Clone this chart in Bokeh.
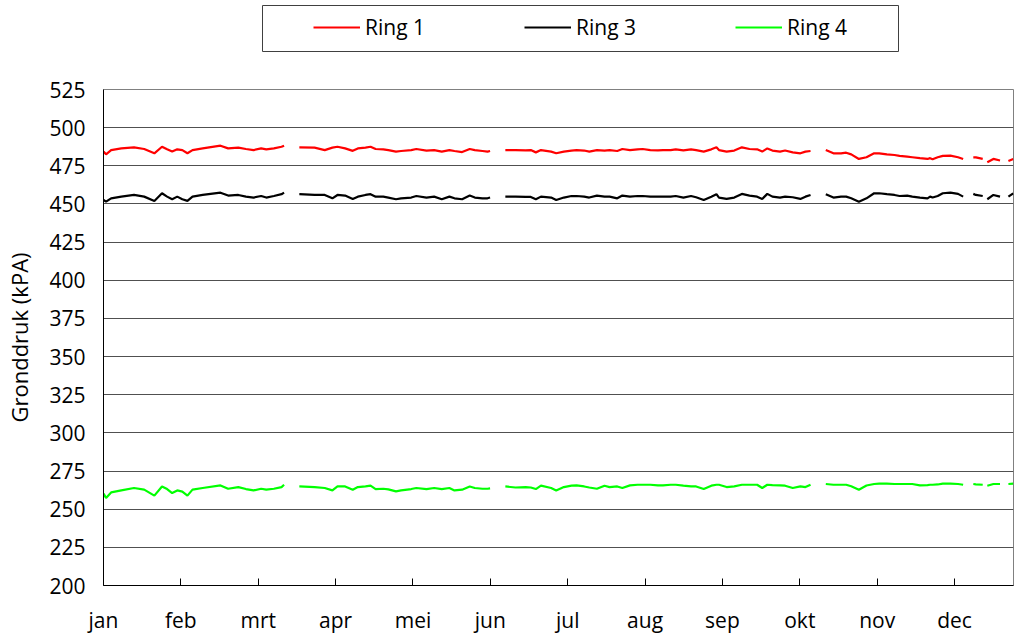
import numpy as np
from bokeh.plotting import figure
from bokeh.layouts import column
from bokeh.models import Range1d, FixedTicker, Legend, LegendItem, BoxAnnotation
from bokeh.embed import file_html
from bokeh.resources import INLINE

nan = float("nan")

months = ["jan", "feb", "mrt", "apr", "mei", "jun", "jul", "aug", "sep", "okt", "nov", "dec"]
month_len = 30.42
x_end = 357.8

days = [0, 1, 3, 7, 12, 16, 20, 23, 25, 27, 29, 31, 33, 35, 39, 46, 49, 53, 56, 59,
        62, 64, 67, 70, 71, 73, 77, 83, 87, 90, 92, 95, 98, 100, 103, 105, 107, 110, 112, 115,
        117, 121, 123, 127, 130, 133, 136, 138, 141, 144, 146, 149, 151, 152, 155, 158, 162, 166, 168, 170,
        172, 176, 178, 181, 184, 186, 189, 191, 194, 197, 199, 202, 204, 207, 210, 212, 215, 218, 220, 223,
        225, 228, 231, 233, 236, 239, 241, 242, 245, 248, 251, 254, 257, 259, 261, 263, 266, 268, 271, 274,
        276, 278, 281, 284, 287, 290, 292, 294, 297, 300, 303, 305, 308, 311, 313, 316, 318, 321, 324, 325,
        326, 328, 330, 333, 336, 338, 340, 342, 343, 345.7, 346.6, 347.5, 349.9, 352.5, 354, 355.8, 357.7]

ring1 = [484.3, 482.5, 485.3, 486.4, 487.1, 486.0, 483.2, 487.5, 485.8, 484.3, 485.8, 485.3, 483.2, 485.3, 486.4, 488.2, 486.4, 486.9, 486.0, 485.3,
         486.4, 485.8, 486.4, 487.5, 488.2, nan, 487.1, 486.9, 485.3, 486.9, 487.5, 486.4, 484.8, 486.4, 486.9, 487.5, 486.0, 485.8, 485.3, 484.3,
         484.7, 485.3, 486.0, 485.0, 485.3, 484.3, 485.3, 484.7, 484.0, 486.0, 485.3, 484.7, 484.3, 484.7, nan, 485.3, 485.3, 485.1, 485.3, 483.8,
         485.3, 484.3, 483.2, 484.3, 485.0, 485.3, 485.0, 484.3, 485.3, 485.0, 485.3, 484.7, 486.0, 485.3, 485.8, 486.0, 485.3, 485.1, 485.3, 485.3,
         485.8, 485.1, 485.8, 485.3, 484.3, 485.8, 487.1, 485.3, 484.3, 485.0, 487.1, 486.0, 485.8, 484.3, 486.4, 485.0, 484.3, 485.0, 483.8, 483.2,
         484.3, 484.7, nan, 485.3, 483.2, 483.2, 483.6, 482.5, 479.5, 480.6, 483.2, 483.2, 482.5, 482.1, 481.5, 481.0, 480.6, 480.0, 479.5, 480.0,
         479.3, 480.6, 481.5, 481.7, 480.6, 479.5, nan, 480.5, 480.5, 479.5, nan, 477.3, 479.5, 478.5, nan, 478.2, 479.5]

ring3 = [452.6, 451.5, 453.7, 454.8, 455.9, 454.8, 452.0, 457.0, 454.8, 453.1, 454.8, 453.1, 452.0, 454.8, 455.9, 457.4, 455.5, 455.9, 454.8, 454.2,
         455.2, 454.2, 455.2, 456.4, 457.4, nan, 456.4, 455.9, 455.9, 453.7, 455.9, 455.5, 453.3, 454.8, 455.9, 456.4, 454.8, 454.8, 454.2, 453.1,
         453.7, 454.2, 455.2, 454.2, 454.8, 453.1, 454.8, 453.7, 453.1, 455.5, 454.2, 453.7, 453.7, 454.2, nan, 454.8, 454.8, 454.6, 454.6, 453.1,
         454.8, 454.2, 452.6, 454.2, 455.2, 455.2, 454.8, 454.2, 455.5, 454.8, 454.8, 453.7, 455.5, 454.8, 455.2, 455.2, 454.8, 454.8, 454.8, 454.8,
         455.2, 454.2, 455.2, 454.4, 452.6, 454.8, 456.4, 454.2, 453.3, 454.2, 456.6, 455.5, 454.8, 453.3, 456.6, 454.8, 454.2, 454.8, 454.4, 453.3,
         454.8, 455.9, nan, 456.4, 454.2, 454.8, 454.8, 453.7, 451.5, 453.7, 457.0, 457.0, 456.4, 455.9, 455.2, 455.5, 454.8, 454.2, 453.7, 454.8,
         454.2, 455.2, 457.0, 457.4, 456.6, 454.8, nan, 456.6, 455.9, 455.2, nan, 453.1, 455.9, 454.8, nan, 454.8, 457.0]

ring4 = [260.2, 257.4, 261.0, 262.3, 263.9, 262.8, 258.9, 264.9, 263.2, 260.6, 262.3, 261.5, 258.9, 262.8, 263.9, 265.6, 263.4, 264.5, 263.2, 262.3,
         263.4, 262.8, 263.4, 264.5, 266.0, nan, 264.9, 264.5, 263.9, 262.3, 264.9, 264.9, 262.8, 264.5, 265.0, 265.4, 263.2, 263.4, 263.0, 261.7,
         262.3, 263.2, 263.9, 263.2, 263.9, 263.2, 263.9, 262.3, 262.8, 264.9, 263.9, 263.4, 263.4, 263.6, nan, 264.9, 264.2, 264.5, 264.2, 263.2,
         265.4, 263.9, 262.3, 264.5, 265.4, 265.6, 264.9, 264.2, 263.4, 265.4, 264.5, 264.9, 263.9, 265.6, 266.0, 266.0, 266.0, 265.6, 265.6, 266.0,
         266.0, 265.4, 264.9, 264.9, 263.2, 265.4, 266.0, 266.0, 264.5, 265.0, 266.0, 266.0, 266.0, 263.9, 266.0, 265.8, 265.6, 265.4, 263.9, 264.9,
         264.5, 266.0, nan, 266.5, 266.0, 266.0, 266.0, 265.0, 262.8, 265.5, 266.5, 266.7, 266.7, 266.5, 266.5, 266.5, 266.5, 265.6, 265.8, 266.0,
         266.0, 266.2, 266.7, 266.7, 266.5, 266.0, nan, 266.5, 266.3, 266.0, nan, 265.4, 266.5, 266.5, nan, 266.5, 266.7]

series_names = ["Ring 1", "Ring 3", "Ring 4"]
series_colors = ["#FF0000", "#000000", "#00FF00"]

y_ticks = list(range(200, 526, 25))
FONT = "Open Sans"
FS = "21px"
W = 1016
LEG_H = 58
BORDER_L = 103
BORDER_R = W - 1013

# ---------------- legend strip (same side borders as main chart) ----------------
leg = figure(width=W, height=LEG_H, output_backend="svg", toolbar_location=None,
             x_range=Range1d(BORDER_L, W - BORDER_R), y_range=Range1d(LEG_H, 0),
             x_axis_location=None, y_axis_location=None,
             min_border_left=BORDER_L, min_border_right=BORDER_R, min_border_top=0, min_border_bottom=0)
leg.grid.visible = False
leg.outline_line_color = None
leg.background_fill_color = "white"
leg.border_fill_color = "white"

# frame of the legend box (pixel-like coordinates of this strip)
leg.add_layout(BoxAnnotation(left=262, right=898, top=5, bottom=51,
                             fill_alpha=0, line_color="#404040", line_width=1, line_alpha=1))

leg_items = []
for name, col in zip(series_names, series_colors):
    r = leg.line([nan], [nan], line_color=col, line_width=2)
    leg_items.append(LegendItem(label=name, renderers=[r]))

legend = Legend(
    items=leg_items, orientation="horizontal", location=(313 - BORDER_L, 17), padding=0, margin=0,
    spacing=95, glyph_width=47, glyph_height=20, label_standoff=5, label_width=64, label_height=20,
    border_line_alpha=0, background_fill_alpha=0,
    label_text_font=FONT, label_text_font_size=FS, label_text_color="black",
)
leg.add_layout(legend)

# ---------------- main chart ----------------
p = figure(width=W, height=636 - LEG_H, output_backend="svg", toolbar_location=None,
           x_range=Range1d(0, x_end), y_range=Range1d(200, 525),
           min_border_left=BORDER_L, min_border_right=BORDER_R, min_border_top=89 - LEG_H, min_border_bottom=50)

p.background_fill_color = "white"
p.border_fill_color = "white"
p.outline_line_color = "#808080"
p.outline_line_width = 1

for vals, col in zip([ring1, ring3, ring4], series_colors):
    p.line(days, vals, line_color=col, line_width=2.2)

tick_pos = [i * month_len for i in range(len(months))]
p.xaxis.ticker = FixedTicker(ticks=tick_pos)
p.xaxis.major_label_overrides = {tp: m for tp, m in zip(tick_pos, months)}
p.yaxis.ticker = FixedTicker(ticks=y_ticks)

for ax in (p.xaxis, p.yaxis):
    ax.axis_line_color = "black"
    ax.axis_line_width = 1
    ax.major_tick_line_color = "black"
    ax.minor_tick_line_color = None
    ax.major_label_text_font = FONT
    ax.major_label_text_font_size = FS
    ax.major_label_text_color = "black"

p.xaxis.major_tick_in = 7
p.xaxis.major_tick_out = 0
p.xaxis.major_label_standoff = 20
p.yaxis.major_tick_in = 0
p.yaxis.major_tick_out = 0
p.yaxis.major_label_standoff = 18

p.yaxis.axis_label = "Gronddruk (kPA)"
p.yaxis.axis_label_text_font = FONT
p.yaxis.axis_label_text_font_size = "22px"
p.yaxis.axis_label_text_font_style = "normal"
p.yaxis.axis_label_text_color = "black"
p.yaxis.axis_label_standoff = 12

p.xgrid.grid_line_color = None
p.ygrid.ticker = FixedTicker(ticks=y_ticks)
p.ygrid.grid_line_color = "#505050"
p.ygrid.grid_line_width = 1

layout = column(leg, p, spacing=0)
open("out.html", "w").write(file_html(layout, INLINE))
